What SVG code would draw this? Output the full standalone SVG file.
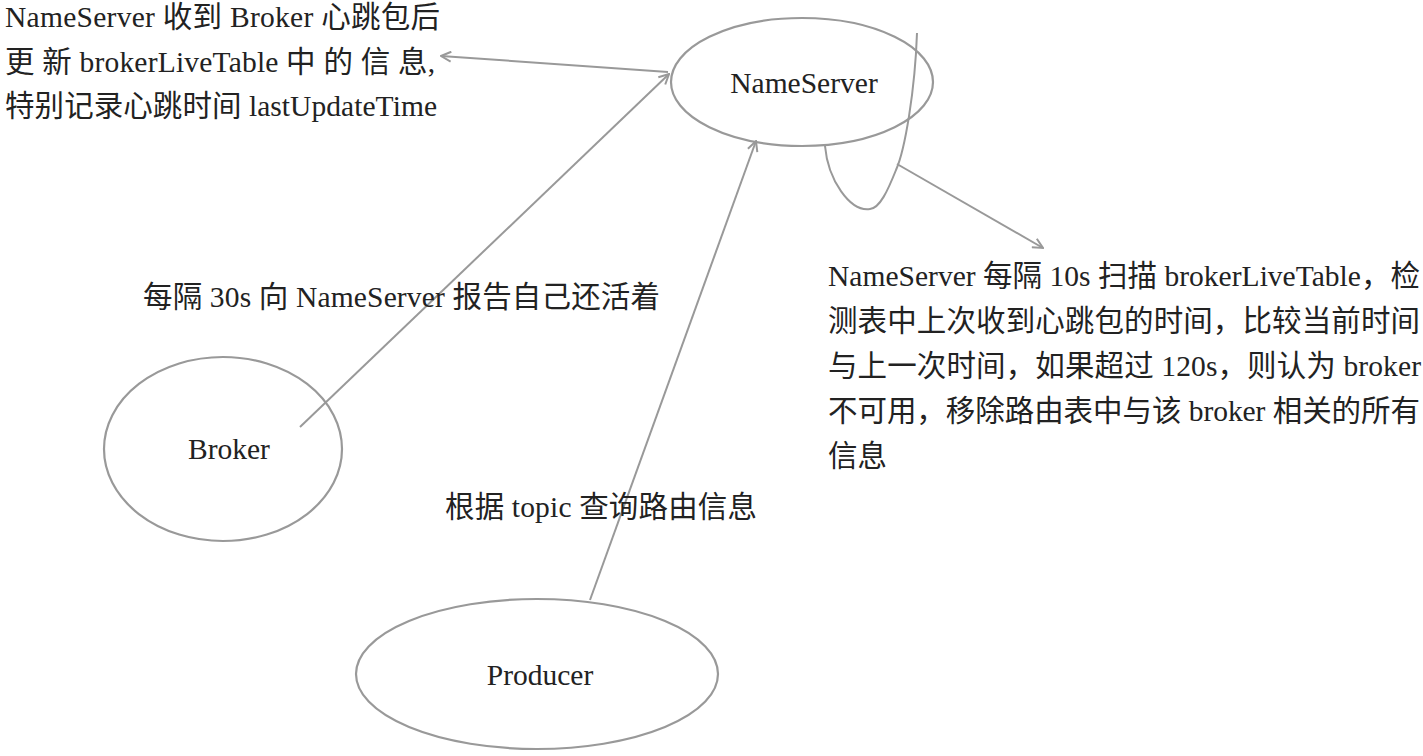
<svg xmlns="http://www.w3.org/2000/svg" width="1423" height="756" viewBox="0 0 1423 756">
<style>
  .node { fill: none; stroke: #999; stroke-width: 2.2; }
  .edge { fill: none; stroke: #999; stroke-width: 2; }
  text { font-family: "Liberation Serif", "Noto Sans CJK SC", serif; font-size: 29.5px; fill: #222; }
  .lbl { text-anchor: middle; }
</style>
<defs>
  <marker id="arr" viewBox="0 0 12 12" refX="11" refY="6" markerWidth="12" markerHeight="12" markerUnits="userSpaceOnUse" orient="auto">
    <path d="M1,1 L11,6 L1,11" fill="none" stroke="#999" stroke-width="2"/>
  </marker>
</defs>
<rect width="1423" height="756" fill="#fff"/>

<g id="connectors">
  <line class="edge" x1="668" y1="72" x2="441" y2="56" marker-end="url(#arr)"/>
  <line class="edge" x1="300" y1="427" x2="669" y2="74" marker-end="url(#arr)"/>
  <line class="edge" x1="590" y1="600" x2="756" y2="141" marker-end="url(#arr)"/>
  <path class="edge" d="M917,33 C915,90 905,150 896,170 C888,190 880,208 870,209 C850,212 828,180 825,146"/>
  <line class="edge" x1="897" y1="164" x2="1043" y2="248" marker-end="url(#arr)"/>
</g>

<g id="nameserver">
  <ellipse class="node" cx="802" cy="82" rx="131" ry="64"/>
  <text class="lbl" x="804" y="93">NameServer</text>
</g>
<g id="broker">
  <ellipse class="node" cx="223" cy="449" rx="119" ry="92"/>
  <text class="lbl" x="229" y="459">Broker</text>
</g>
<g id="producer">
  <ellipse class="node" cx="537" cy="674" rx="181" ry="75"/>
  <text class="lbl" x="540" y="685">Producer</text>
</g>

<g id="labels">
  <text x="5" y="27" textLength="435" lengthAdjust="spacing">NameServer 收到 Broker 心跳包后</text>
  <text x="5" y="72" textLength="430" lengthAdjust="spacing">更 新 brokerLiveTable 中 的 信 息,</text>
  <text x="5" y="116" textLength="432" lengthAdjust="spacing">特别记录心跳时间 lastUpdateTime</text>

  <text x="143" y="307" textLength="517" lengthAdjust="spacing">每隔 30s 向 NameServer 报告自己还活着</text>
  <text x="445" y="517" textLength="312" lengthAdjust="spacing">根据 topic 查询路由信息</text>

  <text x="828" y="286" textLength="592" lengthAdjust="spacing">NameServer 每隔 10s 扫描 brokerLiveTable，检</text>
  <text x="828" y="331" textLength="592" lengthAdjust="spacing">测表中上次收到心跳包的时间，比较当前时间</text>
  <text x="828" y="376" textLength="593" lengthAdjust="spacing">与上一次时间，如果超过 120s，则认为 broker</text>
  <text x="828" y="421" textLength="592" lengthAdjust="spacing">不可用，移除路由表中与该 broker 相关的所有</text>
  <text x="828" y="466">信息</text>
</g>
</svg>
